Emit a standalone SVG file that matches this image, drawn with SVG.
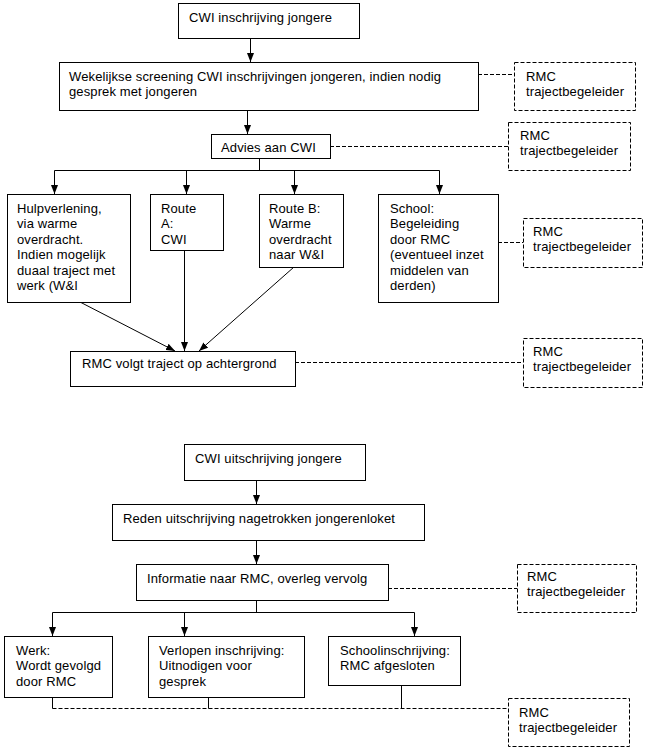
<svg xmlns="http://www.w3.org/2000/svg" width="647" height="752" viewBox="0 0 647 752">
<defs>
<style>
.box{fill:#fff;stroke:#000;stroke-width:1}
.dbox{fill:#fff;stroke:#000;stroke-width:1;stroke-dasharray:4 2}
.ln{fill:none;stroke:#000;stroke-width:1}
.dl{fill:none;stroke:#000;stroke-width:1;stroke-dasharray:4 2}
.arr{marker-end:url(#ah)}
text{font-family:"Liberation Sans",Arial,sans-serif;font-size:13px;letter-spacing:0.12px;fill:#000}
</style>
<marker id="ah" viewBox="0 0 9 7" refX="9" refY="3.5" markerWidth="9" markerHeight="7" orient="auto" markerUnits="userSpaceOnUse">
<path d="M0,0 L9,3.5 L0,7 z" fill="#000"/>
</marker>
</defs>
<rect width="647" height="752" fill="#fff"/>

<g id="connectors">
<line class="ln arr" x1="250.5" y1="38" x2="250.5" y2="62"/>
<line class="ln arr" x1="247.5" y1="110" x2="247.5" y2="134"/>
<polyline class="ln" points="259.5,158 259.5,170.5"/>
<line class="ln" x1="54.5" y1="170.5" x2="439.5" y2="170.5"/>
<line class="ln arr" x1="54.5" y1="170.5" x2="54.5" y2="194"/>
<line class="ln arr" x1="186.5" y1="170.5" x2="186.5" y2="194"/>
<line class="ln arr" x1="294.5" y1="170.5" x2="294.5" y2="194"/>
<line class="ln arr" x1="439.5" y1="170.5" x2="439.5" y2="194"/>
<line class="ln arr" x1="80" y1="302" x2="175" y2="351"/>
<line class="ln arr" x1="184.5" y1="250" x2="184.5" y2="351"/>
<line class="ln arr" x1="294" y1="267" x2="199" y2="351"/>
<line class="dl" x1="478" y1="74.5" x2="514" y2="74.5"/>
<line class="dl" x1="330" y1="146.5" x2="508" y2="146.5"/>
<line class="dl" x1="498" y1="242.5" x2="523" y2="242.5"/>
<line class="dl" x1="295" y1="362.5" x2="523" y2="362.5"/>

<line class="ln arr" x1="256.5" y1="480" x2="256.5" y2="504"/>
<line class="ln arr" x1="256.5" y1="540" x2="256.5" y2="564"/>
<line class="ln" x1="256.5" y1="600" x2="256.5" y2="612.5"/>
<line class="ln" x1="52.5" y1="612.5" x2="414.5" y2="612.5"/>
<line class="ln arr" x1="52.5" y1="612.5" x2="52.5" y2="636"/>
<line class="ln arr" x1="184.5" y1="612.5" x2="184.5" y2="636"/>
<line class="ln arr" x1="414.5" y1="612.5" x2="414.5" y2="636"/>
<line class="dl" x1="388" y1="588.5" x2="517" y2="588.5"/>
<line class="ln" x1="52.5" y1="697" x2="52.5" y2="708.5"/>
<line class="ln" x1="208.5" y1="697" x2="208.5" y2="708.5"/>
<line class="ln" x1="401.5" y1="685" x2="401.5" y2="708.5"/>
<line class="dl" x1="52.5" y1="708.5" x2="508" y2="708.5"/>
</g>

<g id="n-cwi-inschrijving">
<rect class="box" x="178.5" y="3.5" width="181" height="35"/>
<text x="189" y="22">CWI inschrijving jongere</text>
</g>
<g id="n-screening">
<rect class="box" x="59.5" y="62.5" width="419" height="48"/>
<text x="69" y="81">Wekelijkse screening CWI inschrijvingen jongeren, indien nodig</text>
<text x="69" y="96.4">gesprek met jongeren</text>
</g>
<g id="n-rmc1">
<rect class="dbox" x="514.5" y="62.5" width="121" height="48"/>
<text x="526" y="81">RMC</text>
<text x="526" y="96.4">trajectbegeleider</text>
</g>
<g id="n-advies">
<rect class="box" x="211.5" y="134.5" width="119" height="24"/>
<text x="221" y="152">Advies aan CWI</text>
</g>
<g id="n-rmc2">
<rect class="dbox" x="508.5" y="122.5" width="122" height="48"/>
<text x="520" y="140">RMC</text>
<text x="520" y="155.4">trajectbegeleider</text>
</g>
<g id="n-hulp">
<rect class="box" x="7.5" y="194.5" width="123" height="108"/>
<text x="17" y="213">Hulpverlening,</text>
<text x="17" y="228.4">via warme</text>
<text x="17" y="243.8">overdracht.</text>
<text x="17" y="259.2">Indien mogelijk</text>
<text x="17" y="274.6">duaal traject met</text>
<text x="17" y="290">werk (W&amp;I</text>
</g>
<g id="n-route-a">
<rect class="box" x="150.5" y="194.5" width="73" height="56"/>
<text x="161" y="213">Route</text>
<text x="161" y="228.4">A:</text>
<text x="161" y="243.8">CWI</text>
</g>
<g id="n-route-b">
<rect class="box" x="259.5" y="194.5" width="84" height="73"/>
<text x="269" y="213">Route B:</text>
<text x="269" y="228.4">Warme</text>
<text x="269" y="243.8">overdracht</text>
<text x="269" y="259.2">naar W&amp;I</text>
</g>
<g id="n-school">
<rect class="box" x="378.5" y="194.5" width="120" height="108"/>
<text x="390" y="213">School:</text>
<text x="390" y="228.4">Begeleiding</text>
<text x="390" y="243.8">door RMC</text>
<text x="390" y="259.2">(eventueel inzet</text>
<text x="390" y="274.6">middelen van</text>
<text x="390" y="290">derden)</text>
</g>
<g id="n-rmc3">
<rect class="dbox" x="523.5" y="218.5" width="119" height="49"/>
<text x="533" y="236">RMC</text>
<text x="533" y="251.4">trajectbegeleider</text>
</g>
<g id="n-rmc-volgt">
<rect class="box" x="70.5" y="351.5" width="225" height="35"/>
<text x="82" y="368">RMC volgt traject op achtergrond</text>
</g>
<g id="n-rmc4">
<rect class="dbox" x="523.5" y="338.5" width="119" height="49"/>
<text x="533" y="356">RMC</text>
<text x="533" y="371.4">trajectbegeleider</text>
</g>

<g id="n-cwi-uitschrijving">
<rect class="box" x="184.5" y="444.5" width="181" height="36"/>
<text x="195" y="463">CWI uitschrijving jongere</text>
</g>
<g id="n-reden">
<rect class="box" x="112.5" y="504.5" width="312" height="36"/>
<text x="123" y="523">Reden uitschrijving nagetrokken jongerenloket</text>
</g>
<g id="n-informatie">
<rect class="box" x="136.5" y="564.5" width="252" height="36"/>
<text x="147" y="583">Informatie naar RMC, overleg vervolg</text>
</g>
<g id="n-rmc5">
<rect class="dbox" x="517.5" y="564.5" width="119" height="48"/>
<text x="527" y="581">RMC</text>
<text x="527" y="596.4">trajectbegeleider</text>
</g>
<g id="n-werk">
<rect class="box" x="4.5" y="636.5" width="108" height="61"/>
<text x="16" y="655">Werk:</text>
<text x="16" y="670.4">Wordt gevolgd</text>
<text x="16" y="685.8">door RMC</text>
</g>
<g id="n-verlopen">
<rect class="box" x="148.5" y="636.5" width="156" height="61"/>
<text x="159" y="655">Verlopen inschrijving:</text>
<text x="159" y="670.4">Uitnodigen voor</text>
<text x="159" y="685.8">gesprek</text>
</g>
<g id="n-schoolinschrijving">
<rect class="box" x="328.5" y="636.5" width="132" height="49"/>
<text x="340" y="655">Schoolinschrijving:</text>
<text x="340" y="670.4">RMC afgesloten</text>
</g>
<g id="n-rmc6">
<rect class="dbox" x="508.5" y="698.5" width="121" height="48"/>
<text x="519" y="717">RMC</text>
<text x="519" y="732.4">trajectbegeleider</text>
</g>
</svg>
